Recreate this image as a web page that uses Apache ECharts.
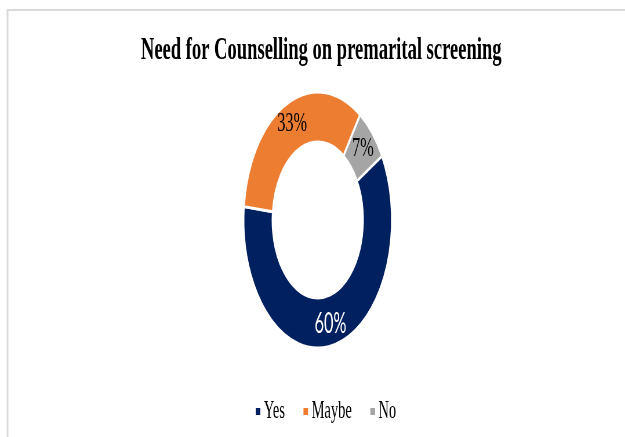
<!DOCTYPE html>
<html>
<head>
<meta charset="utf-8">
<script src="https://cdn.jsdelivr.net/npm/echarts@6/dist/echarts.min.js"></script>
<style>
  html, body { margin: 0; padding: 0; background: #ffffff; overflow: hidden; }
  #wrap { width: 625px; height: 437px; overflow: hidden; position: relative; }
  /* the chart is laid out wide and then compressed horizontally */
  #chart { width: 1078px; height: 437px; transform: scaleX(0.5798); transform-origin: 0 0; }
</style>
</head>
<body>
<div id="wrap"><div id="chart"></div></div>
<script>
const categories = ['Yes', 'Maybe', 'No'];
const percentages = [60, 33, 7];
const sliceColors = ['#002060', '#ED7D31', '#A5A5A5'];
const labelColors = ['#ffffff', '#000000', '#000000'];
const chartTitle = 'Need for Counselling on premarital screening';

const serif = '"Liberation Serif", "Times New Roman", serif';
const sans = 'Lato, "Liberation Sans", sans-serif';
const labelFonts = [sans, serif, serif];
const chart = echarts.init(document.getElementById('chart'), null, { renderer: 'canvas' });

const pieData = categories.map((name, i) => ({
  name: name,
  value: percentages[i],
  itemStyle: { color: sliceColors[i] },
  label: { color: labelColors[i], fontFamily: labelFonts[i] }
}));

chart.setOption({
  animation: false,
  backgroundColor: '#ffffff',
  title: {
    text: chartTitle,
    left: 549,
    textAlign: 'center',
    top: 30,
    textStyle: { fontFamily: serif, fontWeight: 'bold', fontSize: 32, color: '#000000' }
  },
  legend: {
    data: categories,
    left: 434,
    top: 394,
    icon: 'rect',
    itemWidth: 10,
    itemHeight: 9,
    itemGap: 30,
    textStyle: { fontFamily: serif, fontSize: 25, color: '#000000' }
  },
  graphic: [
    { type: 'line', shape: { x1: 12, y1: 10, x2: 1078, y2: 10 }, style: { stroke: '#d9d9d9', lineWidth: 2 } },
    { type: 'line', shape: { x1: 13, y1: 9, x2: 13, y2: 437 }, style: { stroke: '#d9d9d9', lineWidth: 3 } }
  ],
  series: [{
    type: 'pie',
    center: [548, 220],
    radius: [78, 128],
    startAngle: 30,
    clockwise: true,
    avoidLabelOverlap: false,
    emphasis: { disabled: true },
    itemStyle: { borderColor: '#ffffff', borderWidth: 3 },
    label: {
      show: true,
      position: 'inside',
      formatter: '{c}%',
      fontFamily: serif,
      fontSize: 28
    },
    labelLine: { show: false },
    data: pieData
  }]
});
</script>
</body>
</html>
